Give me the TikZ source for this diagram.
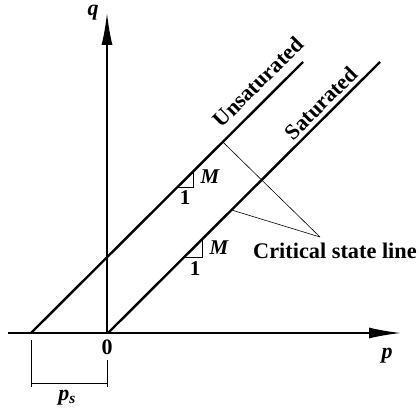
\documentclass[tikz,border=0pt]{standalone}
\usepackage{fontspec}
\setmainfont{Liberation Serif}
\usetikzlibrary{arrows.meta,calc}
\begin{document}
\begin{tikzpicture}[x=1pt,y=-1pt,
  axis/.style={line width=1.8pt,-{Latex[length=32pt,width=11pt]}},
  csl/.style={line width=2.4pt},
  thinline/.style={line width=0.6pt},
  lbl/.style={font=\fontsize{22}{25}\selectfont\bfseries, inner sep=0pt},
  ilbl/.style={font=\fontsize{22}{25}\selectfont\bfseries\itshape, inner sep=0pt},
  slbl/.style={font=\fontsize{21}{24}\selectfont\bfseries, inner sep=0pt},
  silbl/.style={font=\fontsize{21}{24}\selectfont\bfseries\itshape, inner sep=0pt}]
\useasboundingbox (0,0) rectangle (419,414);
% axes
\coordinate (O) at (107,333);
\coordinate (xl) at (8,333);
\coordinate (xr) at (401,333);
\coordinate (yt) at (107,13);
\draw[axis] (xl) -- (xr);
\draw[axis] (O) -- (yt);
\node[ilbl] (q) at (93,13) {q};
\node[ilbl] (p) at (387,356) {p};
\node[lbl] (zero) at (107,347) {0};
% critical state lines
\coordinate (u0) at (31,333);
\coordinate (u1) at (303,62);
\coordinate (s0) at (108,333);
\coordinate (s1) at (380,62);
\draw[csl] (u0) -- (u1);
\draw[csl] (s0) -- (s1);
\node[lbl, rotate=45] (unsat) at (258,82) {Unsaturated};
\node[lbl, rotate=45] (sat) at (321,103) {Saturated};
% slope triangles
\coordinate (ua) at ($(u0)!0.539!(u1)$);
\draw[thinline] (ua) -- ++(16,0) -- ++(0,-16);
\node[silbl] (um) at (210,177) {M};
\node[slbl] (u1l) at (185,198) {1};
\coordinate (sa) at ($(s0)!0.280!(s1)$);
\draw[thinline] (sa) -- ++(18,0) -- ++(0,-18);
\node[silbl] (sm) at (219,248) {M};
\node[slbl] (s1l) at (195,269) {1};
% leaders
\node[lbl, anchor=west, font=\fontsize{22.3}{26}\selectfont\bfseries] (crit) at (253,251) {Critical state line};
\coordinate (cl) at (320,237);
\coordinate (ul) at ($(u0)!0.705!(u1)$);
\coordinate (sl) at ($(s0)!0.454!(s1)$);
\draw[thinline] (ul) -- (cl);
\draw[thinline] (sl) -- (cl);
% p_s dimension
\coordinate (d1) at (31,340);
\coordinate (d1b) at (31,387);
\coordinate (d2) at (107,360);
\coordinate (d2b) at (107,387);
\coordinate (h1) at (31,383);
\coordinate (h2) at (107,383);
\draw[thinline] (d1) -- (d1b);
\draw[thinline] (d2) -- (d2b);
\draw[thinline] (h1) -- (h2);
\node[ilbl] (ps) at (67,398) {p\textsubscript{s}};
\end{tikzpicture}
\end{document}
